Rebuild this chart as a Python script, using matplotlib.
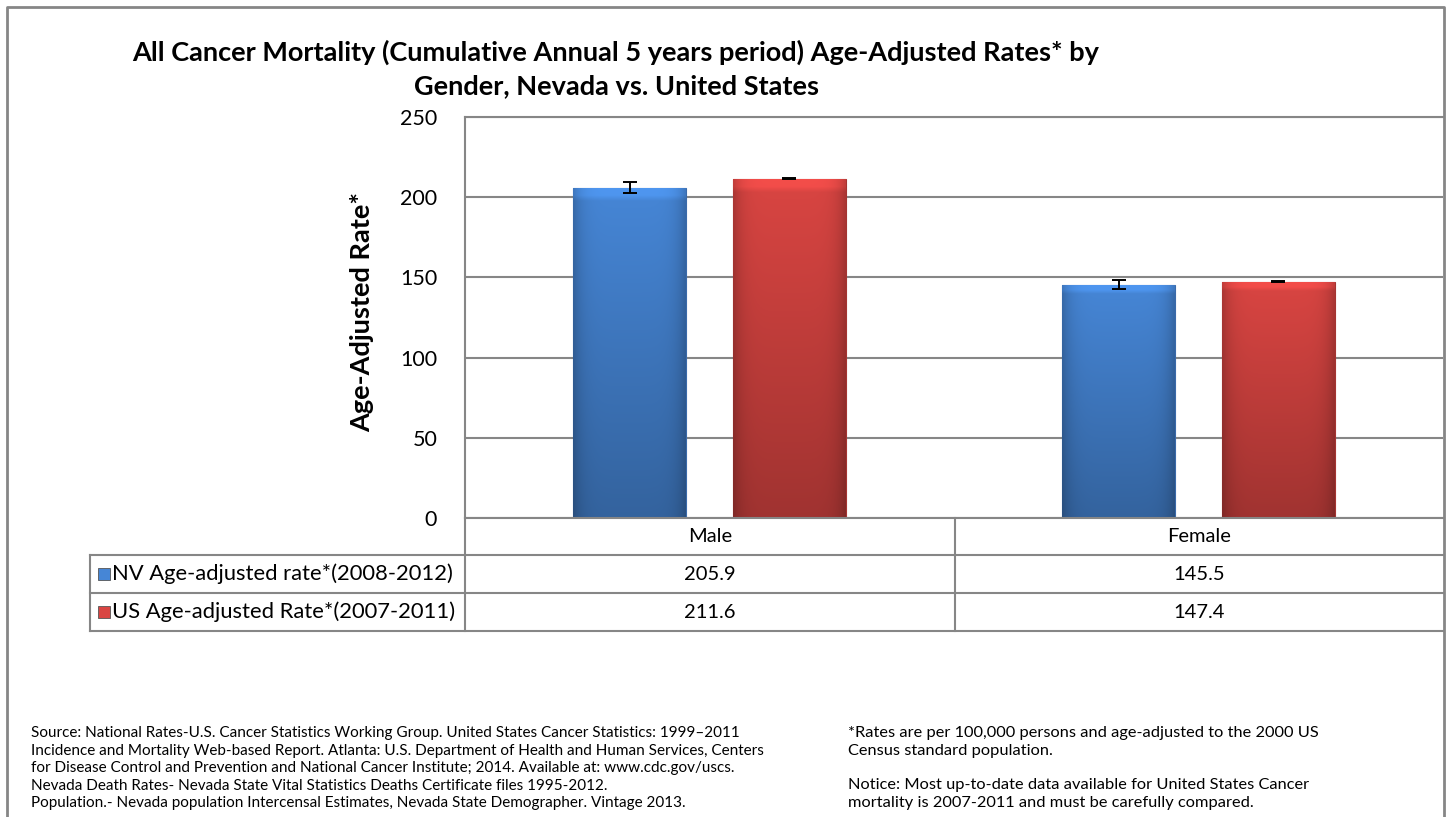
import numpy as np
import matplotlib
matplotlib.use("Agg")
import matplotlib.pyplot as plt
from matplotlib.lines import Line2D
from matplotlib.patches import Rectangle
from matplotlib.colors import to_rgb

plt.rcParams['font.family'] = ['Lato', 'DejaVu Sans']

# data
genders = ['Male', 'Female']
series_names = ['NV Age-adjusted rate*(2008-2012)', 'US Age-adjusted Rate*(2007-2011)']
nv_rates = [205.9, 145.5]
us_rates = [211.6, 147.4]
nv_err = [3.3, 2.6]
us_err = [0.5, 0.4]
yticks = [0, 50, 100, 150, 200, 250]

title = ('All Cancer Mortality (Cumulative Annual 5 years period) Age-Adjusted Rates* by\n'
         'Gender, Nevada vs. United States')
source_lines = [
    'Source: National Rates-U.S. Cancer Statistics Working Group. United States Cancer Statistics: 1999\u20132011',
    'Incidence and Mortality Web-based Report. Atlanta: U.S. Department of Health and Human Services, Centers',
    'for Disease Control and Prevention and National Cancer Institute; 2014. Available at: www.cdc.gov/uscs.',
    'Nevada Death Rates- Nevada State Vital Statistics Deaths Certificate files 1995-2012.',
    'Population.- Nevada population Intercensal Estimates, Nevada State Demographer. Vintage 2013.',
]
note_lines = [
    '*Rates are per 100,000 persons and age-adjusted to the 2000 US',
    'Census standard population.',
    '',
    'Notice: Most up-to-date data available for United States Cancer',
    'mortality is 2007-2011 and must be carefully compared.',
]

W, H = 1449, 817
GREY = '#868686'


def fx(x):
    return x / W


def fy(y):
    return 1 - y / H


def shaded(ax, bar, color):
    # fake the 3D bevel look with a clipped gradient
    base = np.array(to_rgb(color))
    xs = np.linspace(-1, 1, 60)
    ys = np.linspace(0, 1, 60)
    side = 1 - 0.2 * np.abs(xs) ** 6
    vert = 0.74 + 0.26 * ys
    fac = vert[:, None] * side[None, :]
    fac[-2:, :] *= 1.12
    img = np.clip(base[None, None, :] * fac[:, :, None], 0, 1)
    x0, y0 = bar.get_x(), bar.get_y()
    im = ax.imshow(img, extent=[x0, x0 + bar.get_width(), y0, y0 + bar.get_height()],
                   origin='lower', aspect='auto', zorder=2, interpolation='bilinear')
    im.set_clip_path(bar)


fig = plt.figure(figsize=(W / 100, H / 100), dpi=100)
ax = fig.add_axes([fx(465), fy(518), fx(1443) - fx(465), fy(117) - fy(518)])

x = np.arange(len(genders))
off, bw = 0.163, 0.231
nv_col, us_col = '#4686D6', '#D94542'
b1 = ax.bar(x - off, nv_rates, bw, color=nv_col, edgecolor='#3A6AAA', linewidth=0.8, zorder=2)
b2 = ax.bar(x + off, us_rates, bw, color=us_col, edgecolor='#A53431', linewidth=0.8, zorder=2)
for b in b1:
    shaded(ax, b, nv_col)
for b in b2:
    shaded(ax, b, us_col)
ax.errorbar(x - off, nv_rates, yerr=nv_err, fmt='none', ecolor='black', capsize=5, lw=1.4,
            capthick=1.4, zorder=3)
ax.errorbar(x + off, us_rates, yerr=us_err, fmt='none', ecolor='black', capsize=5, lw=1.4,
            capthick=1.4, zorder=3)

ax.set_xlim(-0.5, len(genders) - 0.5)
ax.set_ylim(0, 250)
ax.set_yticks(yticks)
ax.set_yticklabels([str(t) for t in yticks], fontsize=15.5)
ax.tick_params(axis='y', length=0, pad=20)
ax.set_xticks([])
ax.grid(axis='y', color=GREY, lw=1.5, zorder=0)
ax.set_axisbelow(True)
for s in ax.spines.values():
    s.set_color(GREY)
    s.set_linewidth(1.5)
ax.spines['right'].set_visible(False)
ax.spines['bottom'].set_visible(False)

fig.text(fx(362), fy(312), 'Age-Adjusted Rate*', rotation=90, ha='center', va='center',
         fontsize=19.5, fontweight='bold')
fig.text(fx(616), fy(69), title, ha='center', va='center', fontsize=19.5,
         fontweight='bold', linespacing=1.45)

# data table under the chart
col_x = [90, 465, 955, 1443]
row_y = [518, 555, 593, 631]


def hline(y, x0, x1):
    fig.add_artist(Line2D([fx(x0), fx(x1)], [fy(y), fy(y)], color=GREY, lw=1.5))


def vline(x0, y0, y1):
    fig.add_artist(Line2D([fx(x0), fx(x0)], [fy(y0), fy(y1)], color=GREY, lw=1.5))


hline(row_y[0], col_x[1], col_x[3])
for y in row_y[1:]:
    hline(y, col_x[0], col_x[3])
vline(col_x[0], row_y[1], row_y[3])
vline(col_x[1], row_y[0], row_y[3])
vline(col_x[2], row_y[0], row_y[3])

centers = [(col_x[1] + col_x[2]) / 2, (col_x[2] + col_x[3]) / 2]
for cx, g in zip(centers, genders):
    fig.text(fx(cx), fy((row_y[0] + row_y[1]) / 2), g, ha='center', va='center', fontsize=14.5)
for r, (name, vals, col) in enumerate(zip(series_names, [nv_rates, us_rates], [nv_col, us_col])):
    yc = (row_y[r + 1] + row_y[r + 2]) / 2
    fig.add_artist(Rectangle((fx(98), fy(yc + 6)), fx(12), 12 / H, facecolor=col,
                             edgecolor='#555555', lw=0.6))
    fig.text(fx(112), fy(yc), name, ha='left', va='center', fontsize=15.8)
    for cx, v in zip(centers, vals):
        fig.text(fx(cx), fy(yc), f'{v:.1f}', ha='center', va='center', fontsize=14.5)

# outer frame (bottom edge falls outside the picture)
fig.add_artist(Line2D([fx(7), fx(7), fx(1444), fx(1444)], [fy(H + 5), fy(7), fy(7), fy(H + 5)],
                      color=GREY, lw=2))

for i, line in enumerate(source_lines):
    fig.text(fx(31), fy(733 + 17.5 * i), line, ha='left', va='center', fontsize=11)
for i, line in enumerate(note_lines):
    if line:
        fig.text(fx(848), fy(733 + 17.5 * i), line, ha='left', va='center', fontsize=11.8)

fig.savefig('out.png', dpi=100)
